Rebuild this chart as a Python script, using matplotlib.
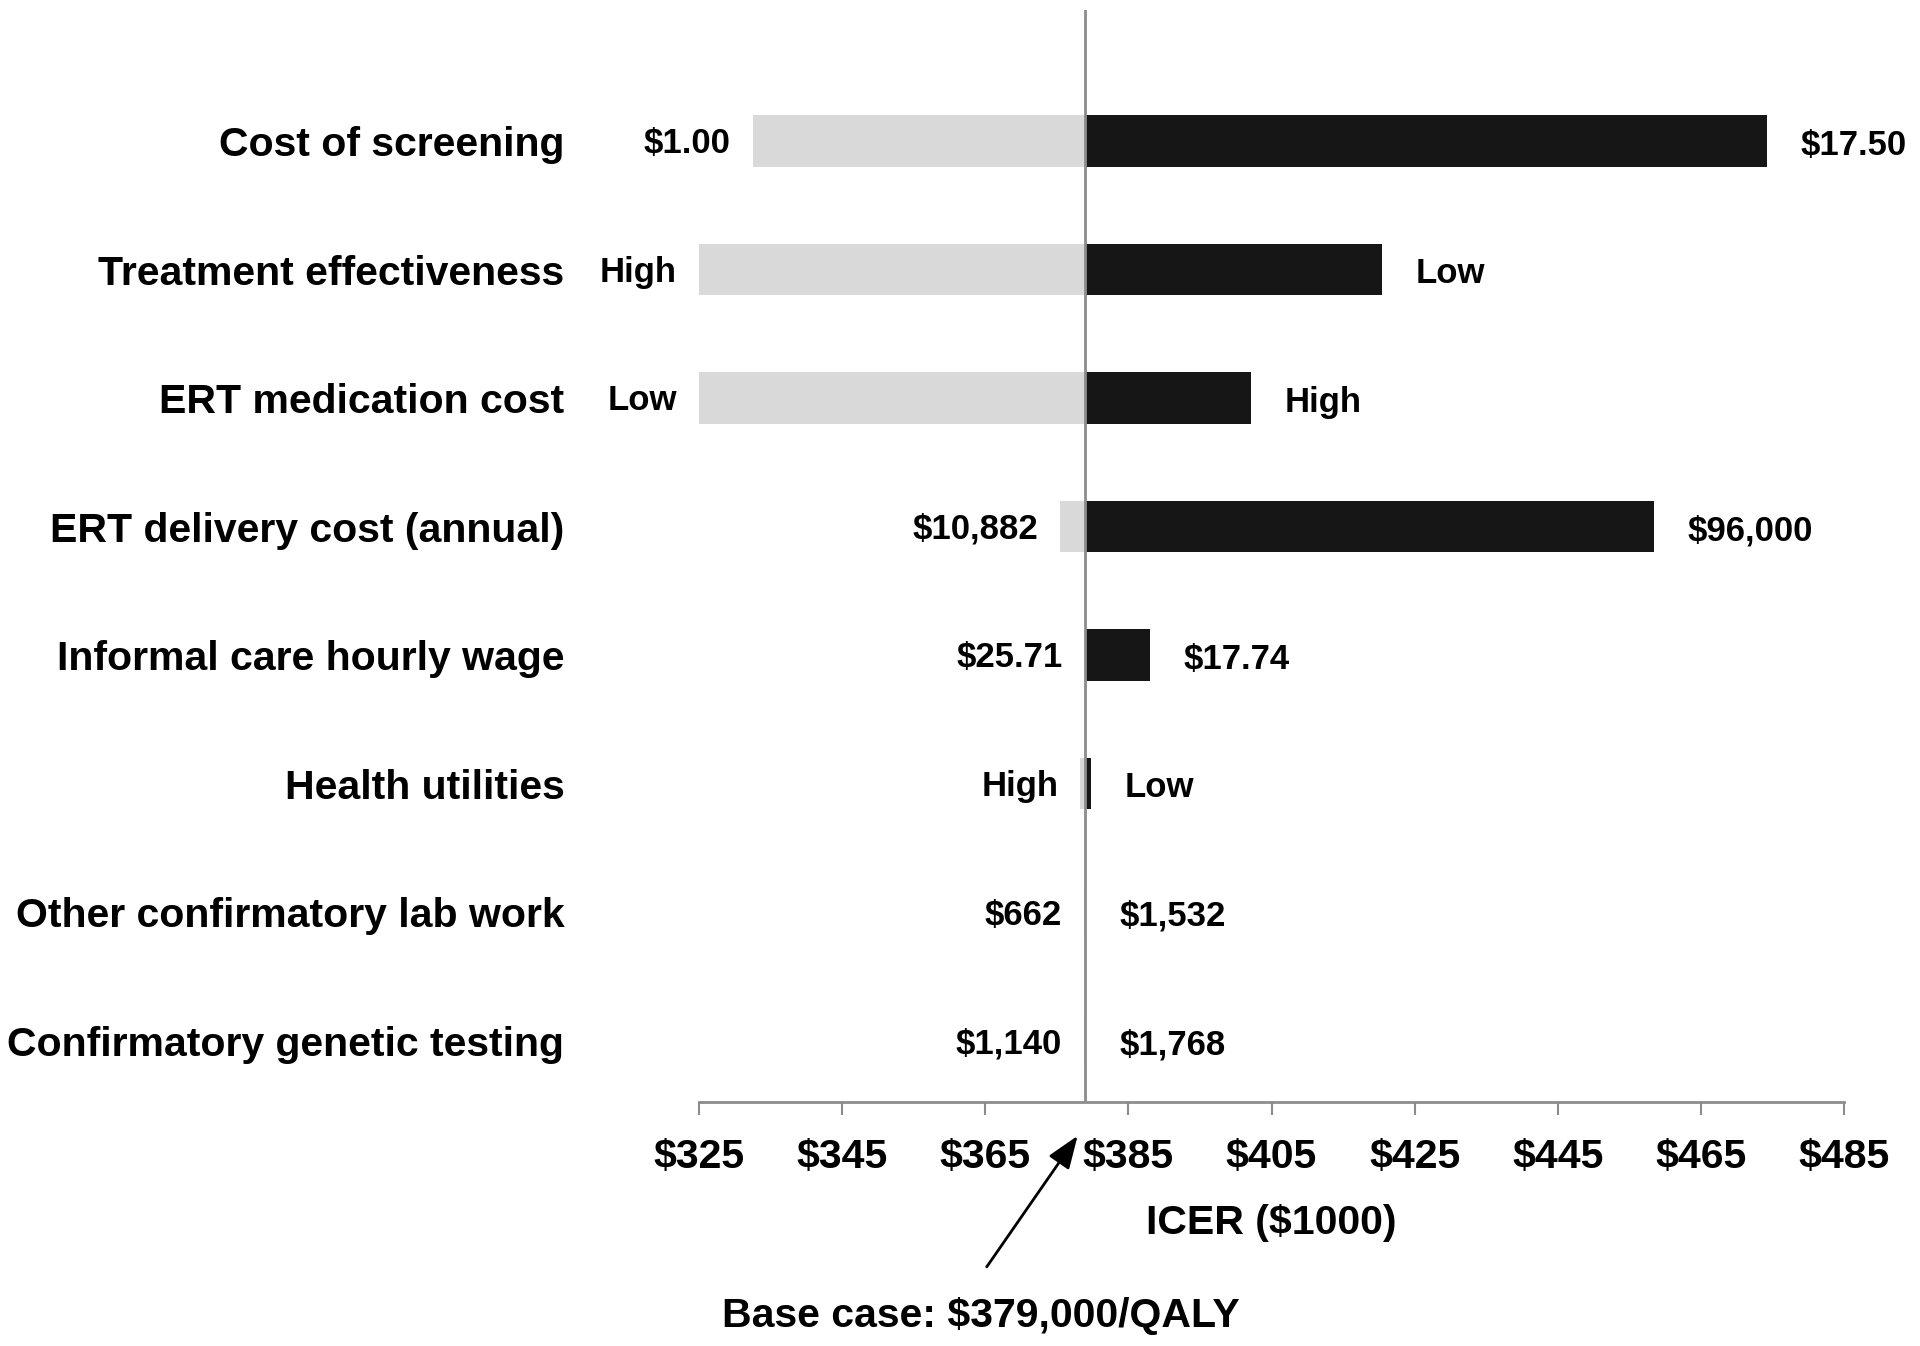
import matplotlib
matplotlib.use("Agg")
import matplotlib.pyplot as plt
import numpy as np

plt.rcParams['font.family'] = ['Liberation Sans', 'DejaVu Sans']
plt.rcParams['font.weight'] = 'bold'

# parametros del tornado (ICER en $1000)
categories = ["Cost of screening", "Treatment effectiveness", "ERT medication cost",
              "ERT delivery cost (annual)", "Informal care hourly wage", "Health utilities",
              "Other confirmatory lab work", "Confirmatory genetic testing"]
low_end = [332.5, 325.0, 325.0, 375.5, 378.9, 378.3, 378.8, 378.8]
high_end = [474.2, 420.5, 402.2, 458.5, 388.0, 379.8, 379.1, 379.1]
low_labels = ["$1.00", "High", "Low", "$10,882", "$25.71", "High", "$662", "$1,140"]
high_labels = ["$17.50", "Low", "High", "$96,000", "$17.74", "Low", "$1,532", "$1,768"]
base_case = 379.0
xticks = np.arange(325, 486, 20)

fig = plt.figure(figsize=(19.2, 13.46), dpi=100)
ax = fig.add_axes([0.3641, 0.1813, 0.5963, 0.8113])

y = np.arange(len(categories))
ax.barh(y, np.array(low_end) - base_case, left=base_case, height=0.4, color='#d9d9d9')
ax.barh(y, np.array(high_end) - base_case, left=base_case, height=0.4, color='#161616')
ax.axvline(base_case, color='#8c8c8c', lw=2, zorder=3)

for i in range(len(categories)):
    ax.annotate(low_labels[i], xy=(min(low_end[i], base_case), y[i]), xytext=(-16, -2),
                textcoords='offset points', ha='right', va='center', fontsize=25, fontweight='bold')
    ax.annotate(high_labels[i], xy=(max(high_end[i], base_case), y[i]), xytext=(24, -3),
                textcoords='offset points', ha='left', va='center', fontsize=25, fontweight='bold')

ax.set_xlim(325, 485)
ax.set_ylim(7.476, -1.02)
ax.set_xticks(xticks)
ax.set_xticklabels(["$" + str(t) for t in xticks], fontsize=29.5, fontweight='bold')
ax.set_yticks(y)
ax.set_yticklabels(categories, fontsize=29.5, fontweight='bold')
ax.tick_params(axis='y', length=0, pad=97)
ax.tick_params(axis='x', direction='out', length=9, width=1.5, color='#8c8c8c', pad=17)
for s in ['left', 'top', 'right']:
    ax.spines[s].set_visible(False)
ax.spines['bottom'].set_color('#8c8c8c')
ax.spines['bottom'].set_linewidth(2)
ax.set_xlabel("ICER ($1000)", fontsize=29.5, fontweight='bold', labelpad=20)

# flecha del caso base
ax.annotate("", xy=(base_case - 1.1, -0.031), xycoords=('data', 'axes fraction'),
            xytext=(365.2, -0.151), textcoords=('data', 'axes fraction'), annotation_clip=False,
            arrowprops=dict(arrowstyle='-|>,head_length=0.8,head_width=0.3', color='black',
                            lw=2, mutation_scale=25, shrinkA=0, shrinkB=0))
ax.text(364.4, -0.196, "Base case: $379,000/QALY", transform=ax.get_xaxis_transform(),
        ha='center', va='center', fontsize=29.5, fontweight='bold')

fig.savefig("out.png", dpi=100)
